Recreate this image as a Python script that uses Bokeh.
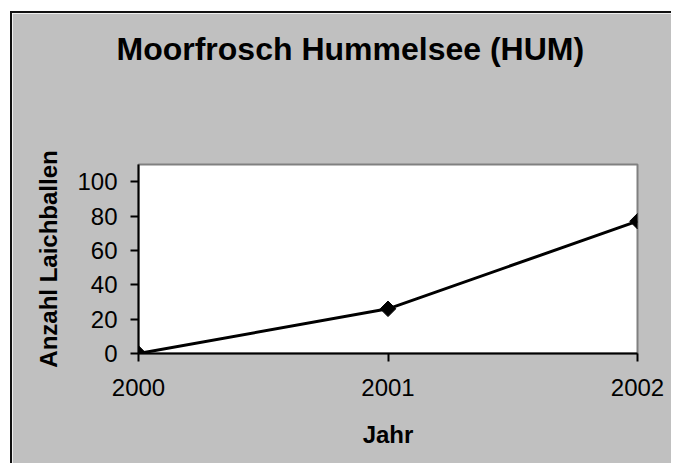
from bokeh.plotting import figure
from bokeh.models import Range1d, FixedTicker, Title
from bokeh.embed import file_html
from bokeh.resources import INLINE
import math

years = [2000, 2001, 2002]
counts = [0, 26, 77]
y_ticks = [0, 20, 40, 60, 80, 100]

title_text = "Moorfrosch Hummelsee (HUM)"
x_label = "Jahr"
y_label = "Anzahl Laichballen"

FONT = "Liberation Sans"
GRAY = "#c0c0c0"

p = figure(width=661, height=452, output_backend="svg", toolbar_location=None,
           x_range=Range1d(2000, 2002), y_range=Range1d(0, 110),
           min_border_left=126, min_border_right=36, min_border_top=151, min_border_bottom=112)
p.styles = {"border-left": "2px solid #111", "border-top": "2px solid #111",
            "margin-left": "10px", "margin-top": "11px"}
p.background_fill_color = "white"
p.border_fill_color = GRAY
p.outline_line_color = "#808080"
p.outline_line_width = 2
p.xgrid.visible = False
p.ygrid.visible = False

spacer = Title(text=" ", text_font_size="10px", standoff=80, text_color=GRAY)
p.add_layout(spacer, "above")
t = Title(text=title_text, align="left", offset=-22, standoff=10,
          text_font=FONT, text_font_size="32px", text_font_style="bold", text_color="black")
p.add_layout(t, "above")

for ax in (p.xaxis[0], p.yaxis[0]):
    ax.axis_line_color = "black"
    ax.axis_line_width = 2
    ax.major_tick_line_color = "black"
    ax.major_tick_line_width = 2
    ax.major_tick_out = 8
    ax.major_tick_in = 0
    ax.minor_tick_line_color = None
    ax.major_label_text_font = FONT
    ax.major_label_text_font_size = "24px"
    ax.major_label_text_color = "black"
    ax.axis_label_text_font = FONT
    ax.axis_label_text_font_size = "24px"
    ax.axis_label_text_font_style = "bold"
    ax.axis_label_text_color = "black"

p.xaxis.ticker = FixedTicker(ticks=years)
p.yaxis.ticker = FixedTicker(ticks=y_ticks)
p.xaxis.axis_label = x_label
p.yaxis.axis_label = y_label
p.xaxis.major_label_standoff = 17
p.yaxis.major_label_standoff = 13
p.xaxis.axis_label_standoff = 22
p.yaxis.axis_label_standoff = 12

p.line(years, counts, line_color="black", line_width=3)
p.scatter(years, counts, marker="square", angle=math.pi / 4, size=11,
          fill_color="black", line_color="black")

open("out.html", "w").write(file_html(p, INLINE))
